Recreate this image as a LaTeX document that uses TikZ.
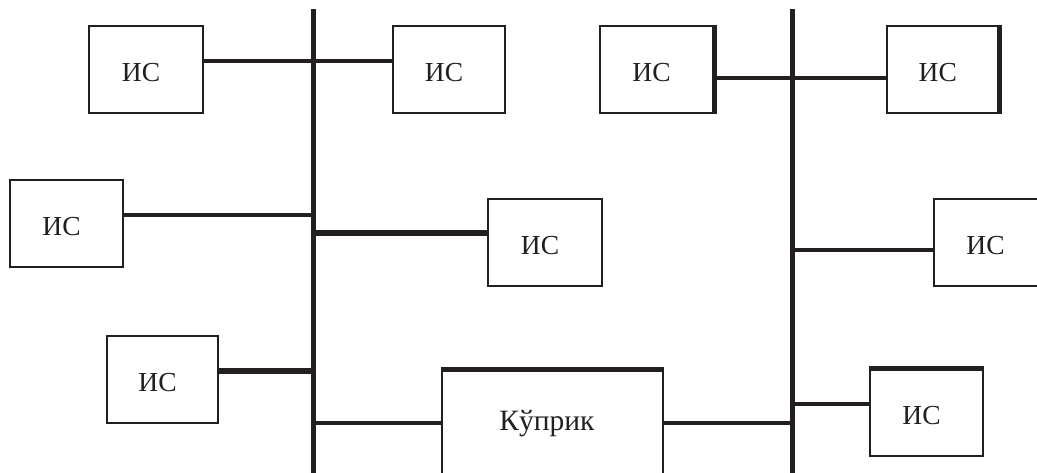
\documentclass[tikz,border=0pt]{standalone}
\usepackage{fontspec}
\setmainfont{Liberation Serif}
\definecolor{ink}{RGB}{35,31,32}
\begin{document}
\begin{tikzpicture}[x=1pt,y=-1pt,
  box/.style={draw=ink,line width=2.3pt,minimum height=87pt,inner sep=0pt},
  lbl/.style={text=ink,font=\fontsize{27.5}{30}\selectfont,inner sep=0pt},
  bus/.style={draw=ink,line width=5pt},
  conn/.style={draw=ink,line width=3.3pt},
  thickconn/.style={draw=ink,line width=6pt},
  edge/.style={draw=ink,line width=5pt}]
\useasboundingbox (0,0) rectangle (1037,472);
\clip (0,0) rectangle (1037,472);
\fill[white] (0,0) rectangle (1037,472);
% buses
\draw[bus] (313,9) coordinate (bus1top) -- (313,480) coordinate (bus1bot);
\draw[bus] (792,9) coordinate (bus2top) -- (792,480) coordinate (bus2bot);
% boxes
\node[box,minimum width=114pt] (b1) at (146,69.5) {};
\node[box,minimum width=112pt] (b2) at (449,69.5) {};
\node[box,minimum width=113pt] (b3) at (656.5,69.5) {};
\node[box,minimum width=111pt] (b4) at (942.75,69.5) {};
\node[box,minimum width=113pt] (b5) at (66.5,223.5) {};
\node[box,minimum width=114pt] (b6) at (545,242.5) {};
\node[box,minimum width=111pt] (b7) at (162.5,379.5) {};
\node[box,minimum width=113pt] (b8) at (990.5,242.5) {};
\node[box,minimum width=113pt,minimum height=86pt] (b9) at (926.5,413) {};
\node[box,minimum width=221pt,minimum height=112pt] (br) at (552.5,427) {};
% labels
\foreach \b in {b1,b2,b3,b4,b5,b6,b7,b8,b9}
  \node[lbl] (t\b) at ([xshift=-5pt,yshift=-3pt]\b.center) {ИС};
\node[lbl,font=\fontsize{29.5}{32}\selectfont] (tbr) at (547,424) {Кўприк};
% thick edges
\draw[edge] (b3.north east) -- (b3.south east);
\draw[edge] (b4.north east) -- (b4.south east);
\draw[edge] (b9.north west) -- (b9.north east);
\draw[edge] (br.north west) -- (br.north east);
% connectors
\draw[conn] (b1.east |- 0,61) -- (b2.west |- 0,61);
\draw[conn] (b3.east |- 0,78) -- (b4.west |- 0,78);
\draw[conn] (b5.east |- 0,215) -- (bus1top |- 0,215);
\draw[thickconn] (bus1top |- 0,233) -- (b6.west |- 0,233);
\draw[thickconn] (b7.east |- 0,371) -- (bus1top |- 0,371);
\draw[conn] (bus1top |- 0,423) -- (br.west |- 0,423);
\draw[conn] (br.east |- 0,423) -- (bus2top |- 0,423);
\draw[conn] (bus2top |- 0,250) -- (b8.west |- 0,250);
\draw[conn] (bus2top |- 0,404) -- (b9.west |- 0,404);
\end{tikzpicture}
\end{document}
